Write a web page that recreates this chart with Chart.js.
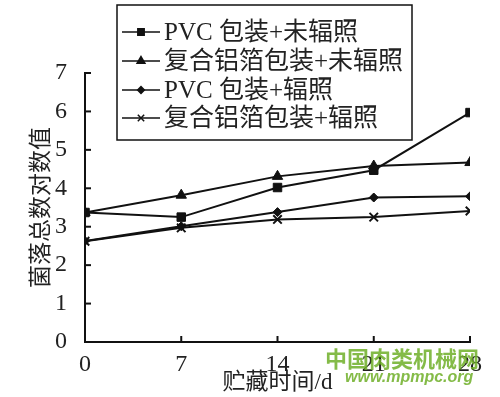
<!DOCTYPE html>
<html>
<head>
<meta charset="utf-8">
<script src="https://cdn.jsdelivr.net/npm/chart.js@4.4.0/dist/chart.umd.min.js"></script>
<style>
  html, body { margin: 0; padding: 0; background: #fff; }
  #wrap { width: 500px; height: 397px; position: relative; }
</style>
</head>
<body>
<div id="wrap"><canvas id="grafico"></canvas></div>
<script>
  // datos
  var dias = [0, 7, 14, 21, 28];
  var pvcNoIrr = [3.37, 3.25, 4.02, 4.47, 5.97];
  var aluNoIrr = [3.37, 3.82, 4.31, 4.58, 4.67];
  var pvcIrr = [2.63, 3.01, 3.38, 3.76, 3.79];
  var aluIrr = [2.62, 2.97, 3.19, 3.25, 3.41];
  var nombres = ['PVC 包装+未辐照', '复合铝箔包装+未辐照', 'PVC 包装+辐照', '复合铝箔包装+辐照'];
  var yTicks = [0, 1, 2, 3, 4, 5, 6, 7];

  var fuente = '"Liberation Serif", "Noto Sans CJK SC", serif';

  function serie(label, vals, estilo, radio) {
    return {
      label: label,
      data: dias.map(function(d, i) { return {x: d, y: vals[i]}; }),
      borderColor: '#111',
      backgroundColor: '#111',
      borderWidth: 2,
      pointStyle: estilo,
      pointRadius: radio,
      pointBorderWidth: estilo === 'crossRot' ? 2 : 1,
      tension: 0
    };
  }

  // ticks hacia dentro
  var ticksDentro = {
    id: 'ticksDentro',
    afterDraw: function(chart) {
      var ctx = chart.ctx, a = chart.chartArea;
      var xs = chart.scales.x, ys = chart.scales.y;
      ctx.save();
      ctx.strokeStyle = '#111';
      ctx.lineWidth = 2;
      yTicks.forEach(function(v) {
        var py = ys.getPixelForValue(v);
        ctx.beginPath(); ctx.moveTo(a.left, py); ctx.lineTo(a.left + 6, py); ctx.stroke();
      });
      dias.forEach(function(v) {
        var px = xs.getPixelForValue(v);
        ctx.beginPath(); ctx.moveTo(px, a.bottom); ctx.lineTo(px, a.bottom - 6); ctx.stroke();
      });
      ctx.restore();
    }
  };

  // leyenda con recuadro
  var leyenda = {
    id: 'leyenda',
    afterDraw: function(chart) {
      var ctx = chart.ctx;
      ctx.save();
      ctx.fillStyle = '#fff';
      ctx.fillRect(117, 5, 295, 135);
      ctx.strokeStyle = '#111';
      ctx.lineWidth = 1.5;
      ctx.strokeRect(117, 5, 295, 135);
      var filas = [32, 61, 90, 118];
      chart.data.datasets.forEach(function(ds, i) {
        var y = filas[i];
        ctx.strokeStyle = '#111';
        ctx.fillStyle = '#111';
        ctx.lineWidth = 1.5;
        ctx.beginPath(); ctx.moveTo(122, y); ctx.lineTo(160, y); ctx.stroke();
        Chart.helpers.drawPoint(ctx, {
          pointStyle: ds.pointStyle, radius: ds.pointRadius * 0.75,
          borderWidth: ds.pointBorderWidth
        }, 141, y);
        ctx.fillStyle = '#222';
        ctx.font = '25px ' + fuente;
        ctx.textBaseline = 'middle';
        ctx.fillText(ds.label, 164, y + 1);
      });
      ctx.restore();
    }
  };

  // marca de agua
  var marca = {
    id: 'marca',
    afterDraw: function(chart) {
      var ctx = chart.ctx;
      ctx.save();
      ctx.fillStyle = 'rgba(110,175,40,0.85)';
      ctx.font = 'bold 22px "Noto Sans CJK SC", sans-serif';
      ctx.textBaseline = 'middle';
      ctx.fillText('中国肉类机械网', 325, 359);
      ctx.font = 'italic bold 16px "Liberation Sans", sans-serif';
      ctx.fillText('www.mpmpc.org', 345, 378);
      ctx.restore();
    }
  };

  var ctx = document.getElementById('grafico').getContext('2d');
  var chart = new Chart(ctx, {
    type: 'line',
    data: {
      datasets: [
        serie(nombres[0], pvcNoIrr, 'rect', 6),
        serie(nombres[1], aluNoIrr, 'triangle', 6),
        serie(nombres[2], pvcIrr, 'rectRot', 4.5),
        serie(nombres[3], aluIrr, 'crossRot', 6)
      ]
    },
    options: {
      responsive: true,
      maintainAspectRatio: false,
      animation: false,
      layout: { padding: { top: 73, right: 30, left: 28, bottom: 0 } },
      plugins: { legend: { display: false }, tooltip: { enabled: false } },
      scales: {
        x: {
          type: 'linear',
          min: 0, max: 28,
          afterBuildTicks: function(s) { s.ticks = dias.map(function(v) { return {value: v}; }); },
          afterFit: function(s) { s.height = 55; },
          grid: { display: false },
          border: { display: true, color: '#111', width: 2 },
          ticks: { color: '#222', font: { family: fuente, size: 24 }, padding: 0, maxRotation: 0 },
          title: { display: true, text: '贮藏时间/d', color: '#222', font: { family: fuente, size: 23 }, padding: 0 }
        },
        y: {
          min: 0, max: 7,
          afterBuildTicks: function(s) { s.ticks = yTicks.map(function(v) { return {value: v}; }); },
          afterFit: function(s) { s.width = 57; },
          grid: { display: false },
          border: { display: true, color: '#111', width: 2 },
          ticks: { color: '#222', font: { family: fuente, size: 24 }, padding: 10 },
          title: { display: true, text: '菌落总数对数值', color: '#222', font: { family: fuente, size: 23 }, padding: 0 }
        }
      }
    },
    plugins: [ticksDentro, leyenda, marca]
  });
</script>
</body>
</html>
